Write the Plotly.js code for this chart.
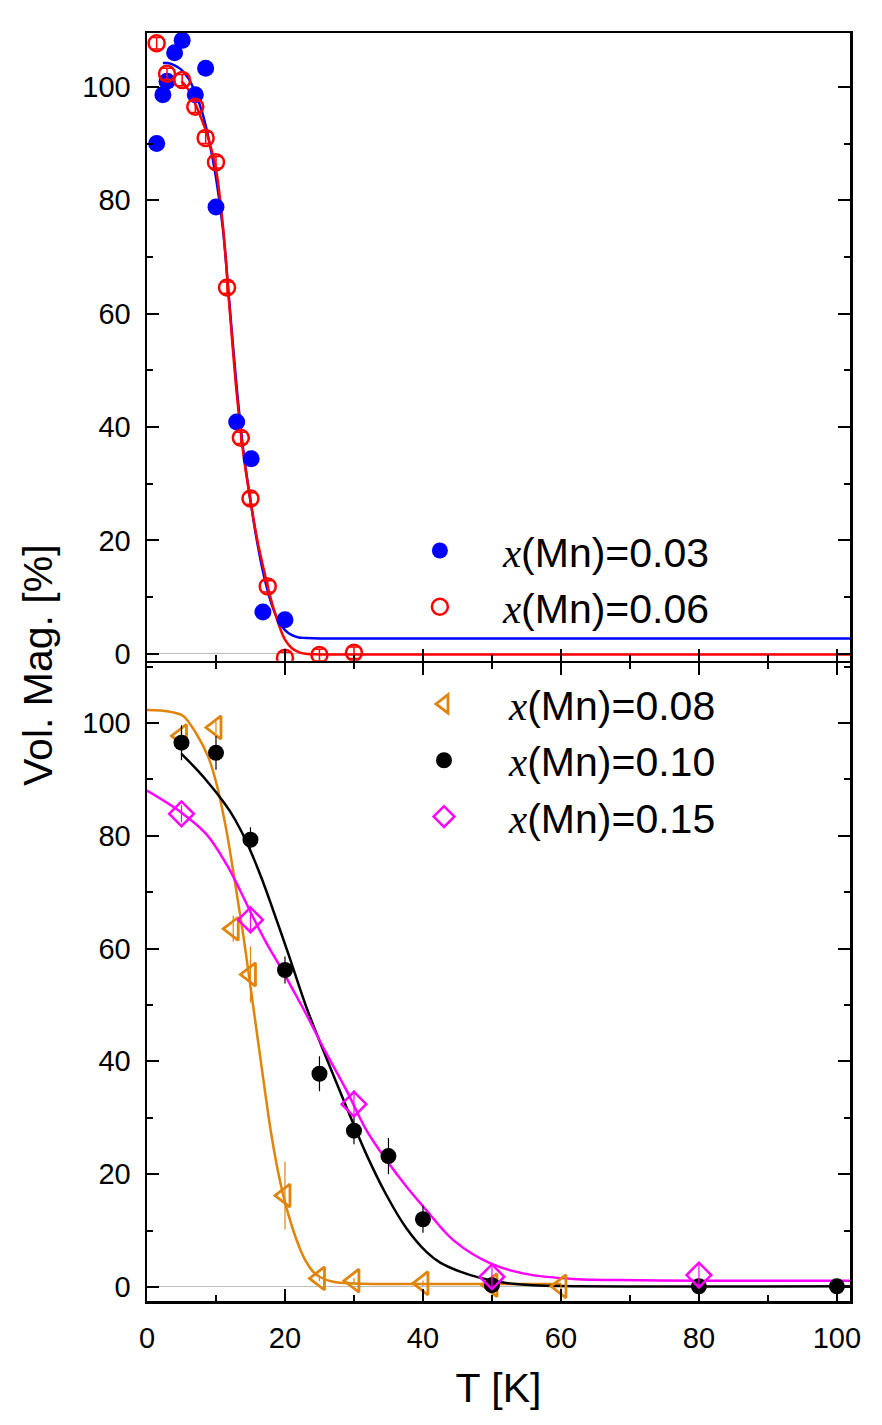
<!DOCTYPE html>
<html>
<head>
<meta charset="utf-8">
<script src="https://cdn.plot.ly/plotly-3.0.1.min.js"></script>
<style>
  html, body { margin: 0; padding: 0; background: #fff; }
  #chart { width: 882px; height: 1425px; }
</style>
</head>
<body>
<div id="chart"></div>
<script>
// x(Mn)=0.03 (top panel, filled blue)
var t03 = [1.4, 2.3, 2.9, 4.0, 5.1, 7.0, 8.5, 10.0, 13.0, 15.1, 16.8, 20.0];
var v03 = [90.0, 98.6, 101.0, 106.0, 108.2, 98.6, 103.3, 78.8, 40.9, 34.4, 7.4, 6.0];
var fitT03 = [2.3, 3, 4, 5, 6, 7, 8, 9, 10, 11, 12, 13, 14, 15, 16, 17, 18, 19, 20, 21, 22, 23, 25, 102];
var fitV03 = [104.2, 104.2, 103.8, 103.0, 101.5, 99.0, 95.5, 90.5, 84.0, 75.0, 61.0, 47.0, 35.5, 27.0, 19.5, 13.5, 9.0, 6.0, 4.2, 3.3, 2.9, 2.8, 2.7, 2.7];

// x(Mn)=0.06 (top panel, open red)
var t06 = [1.4, 2.9, 5.1, 7.0, 8.5, 10.0, 11.6, 13.6, 15.0, 17.5, 20.0, 25.0, 30.0];
var v06 = [107.7, 102.3, 101.2, 96.5, 91.0, 86.7, 64.6, 38.1, 27.4, 11.9, -0.7, -0.2, 0.2];
var e06 = [1, 1, 1, 1, 1, 1, 1, 1, 1, 1, 1, 1, 1];
var fitT06 = [5, 6, 7, 8, 9, 10, 11, 12, 13, 14, 15, 16, 17, 18, 19, 20, 21, 22, 23, 25, 30, 102];
var fitV06 = [101.0, 99.5, 97.0, 94.0, 90.5, 85.5, 75.5, 60.5, 46.0, 35.0, 27.0, 20.0, 14.5, 9.5, 5.5, 2.5, 1.0, 0.3, 0.0, -0.1, -0.1, -0.1];

// x(Mn)=0.08 (bottom panel, orange triangles)
var t08 = [5, 10, 12.5, 15, 20, 25, 30, 40, 50, 60];
var v08 = [97.7, 99.2, 63.5, 55.4, 16.2, 1.5, 1.1, 0.65, 0.3, 0.1];
var e08 = [1, 1, 2.3, 5, 6, 0.5, 0.5, 0.5, 0.5, 0.5];
var fitT08 = [0, 2, 4, 5.3, 7.2, 8.9, 10.1, 11.3, 12, 13, 14, 15, 16, 17, 18, 19, 20, 21, 22, 23, 24, 25, 27, 30, 40, 60];
var fitV08 = [102.3, 102.2, 101.8, 101.2, 98.0, 93.9, 89.1, 82.3, 77.5, 69.8, 62.0, 53.3, 44.4, 35.6, 27.2, 20.4, 15.0, 10.8, 7.3, 4.6, 2.8, 1.8, 0.9, 0.6, 0.5, 0.5];

// x(Mn)=0.10 (bottom panel, black circles)
var t10 = [5, 10, 15, 20, 25, 30, 35, 40, 50, 80, 100];
var v10 = [96.5, 94.7, 79.3, 56.2, 37.8, 27.7, 23.2, 12.0, 0.3, 0.1, 0.1];
var e10 = [3.1, 3.0, 2.2, 2.4, 3.1, 2.4, 3.2, 2.4, 0.8, 0.8, 0.8];
var fitT10 = [5, 7.4, 9.1, 10.6, 12, 13.5, 14.9, 16.6, 18.8, 20.5, 23.1, 26, 28.9, 31.8, 34.7, 37.6, 40.5, 42.5, 45.4, 48.3, 52.1, 56, 60, 102];
var fitV10 = [94.5, 91.5, 89.1, 86.8, 84.4, 81.2, 77.6, 72.5, 65.0, 59.0, 49.6, 40.6, 31.9, 23.5, 16.3, 10.4, 6.2, 4.3, 2.7, 1.6, 0.7, 0.3, 0.15, 0.1];

// x(Mn)=0.15 (bottom panel, magenta diamonds)
var t15 = [5, 15, 30, 50, 80];
var v15 = [83.9, 65.1, 32.4, 1.8, 2.1];
var e15 = [1.5, 2, 2.5, 1.8, 2.3];
var fitT15 = [0, 5, 8.6, 11.5, 13.5, 15.4, 17.3, 19.3, 21.2, 23.1, 26, 28.9, 31.8, 34.7, 37.6, 40.5, 44.4, 49.7, 54.5, 61.8, 71.4, 80, 102];
var fitV15 = [88.0, 84.1, 80.3, 75.0, 70.3, 65.5, 61.0, 56.8, 52.6, 48.3, 41.4, 34.9, 27.8, 22.5, 17.8, 13.6, 8.3, 4.2, 2.4, 1.4, 1.2, 1.1, 1.1];

var tickFont = { family: "Arial, 'Liberation Sans', sans-serif", size: 29, color: "#000" };
var ORANGE = "#E0840A";

function label(val) {
  return "<span style=\"font-family:'Liberation Serif','Times New Roman',serif;font-style:italic\">x</span>(Mn)=" + val;
}

function fit(x, y, color, xa, ya) {
  return {
    x: x, y: y, xaxis: xa, yaxis: ya, type: "scatter", mode: "lines",
    line: { color: color, width: 2.5, shape: "spline", smoothing: 1 },
    showlegend: false, hoverinfo: "skip"
  };
}

var data = [
  fit(fitT03, fitV03, "#0000FF", "x", "y"),
  fit(fitT06, fitV06, "#FF0000", "x", "y"),
  {
    x: t03, y: v03, xaxis: "x", yaxis: "y", type: "scatter", mode: "markers",
    name: label("0.03"), legend: "legend",
    marker: { symbol: "circle", size: 17, color: "#0000FF" }
  },
  {
    x: t06, y: v06, xaxis: "x", yaxis: "y", type: "scatter", mode: "markers",
    name: label("0.06"), legend: "legend",
    error_y: { type: "data", array: e06, color: "#FF0000", thickness: 1.5, width: 5 },
    marker: { symbol: "circle-open", size: 16, color: "#FF0000", line: { width: 2.5 } }
  },
  fit(fitT08, fitV08, ORANGE, "x2", "y2"),
  fit(fitT10, fitV10, "#000000", "x2", "y2"),
  fit(fitT15, fitV15, "#FF00FF", "x2", "y2"),
  {
    x: t08, y: v08, xaxis: "x2", yaxis: "y2", type: "scatter", mode: "markers",
    name: label("0.08"), legend: "legend2",
    error_y: { type: "data", array: e08, color: ORANGE, thickness: 1.2, width: 0 },
    marker: { symbol: "triangle-left-open", size: 20, color: ORANGE, line: { width: 2.8 } }
  },
  {
    x: t10, y: v10, xaxis: "x2", yaxis: "y2", type: "scatter", mode: "markers",
    name: label("0.10"), legend: "legend2",
    error_y: { type: "data", array: e10, color: "#000", thickness: 1.2, width: 0 },
    marker: { symbol: "circle", size: 16, color: "#000" }
  },
  {
    x: t15, y: v15, xaxis: "x2", yaxis: "y2", type: "scatter", mode: "markers",
    name: label("0.15"), legend: "legend2",
    error_y: { type: "data", array: e15, color: "#FF00FF", thickness: 1.2, width: 0 },
    marker: { symbol: "diamond-open", size: 19, color: "#FF00FF", line: { width: 2.5 } }
  }
];

var xCommon = {
  range: [0, 101.9], dtick: 20, tick0: 0,
  ticks: "inside", ticklen: 12, tickwidth: 2, tickcolor: "#000",
  minor: { dtick: 10, ticks: "inside", ticklen: 6, tickwidth: 2, tickcolor: "#000" },
  showline: true, linecolor: "#000", linewidth: 2.5,
  showgrid: false, zeroline: false, tickfont: tickFont
};
var yCommon = {
  dtick: 20, tick0: 0,
  ticks: "inside", ticklen: 12, tickwidth: 2, tickcolor: "#000",
  minor: { dtick: 10, ticks: "inside", ticklen: 6, tickwidth: 2, tickcolor: "#000" },
  showline: true, linecolor: "#000", linewidth: 2.5, mirror: "ticks",
  showgrid: false, zeroline: true, zerolinecolor: "#bdbdbd", zerolinewidth: 1,
  tickfont: tickFont, ticklabelstandoff: 8
};

var legendFont = { family: "Arial, 'Liberation Sans', sans-serif", size: 41, color: "#000" };

var layout = {
  width: 882, height: 1425,
  margin: { l: 147, r: 32, t: 33, b: 124 },
  paper_bgcolor: "#fff", plot_bgcolor: "#fff",
  showlegend: true,
  xaxis: Object.assign({}, xCommon, { anchor: "y", mirror: true, showticklabels: false, matches: "x2" }),
  xaxis2: Object.assign({}, xCommon, {
    anchor: "y2", mirror: "ticks", ticklabelstandoff: 10,
    title: { text: "T [K]", font: { family: "Arial, 'Liberation Sans', sans-serif", size: 41, color: "#000" }, standoff: 20 }
  }),
  yaxis: Object.assign({}, yCommon, { domain: [0.505, 1], anchor: "x", range: [-1.2, 109.5] }),
  yaxis2: Object.assign({}, yCommon, { domain: [0, 0.503], anchor: "x2", range: [-2.5, 110.6] }),
  legend: {
    x: 0.327, y: 0.618, xanchor: "left", yanchor: "top",
    bgcolor: "rgba(0,0,0,0)", borderwidth: 0, font: legendFont,
    itemwidth: 116, tracegroupgap: 0
  },
  legend2: {
    x: 0.330, y: 0.497, xanchor: "left", yanchor: "top",
    bgcolor: "rgba(0,0,0,0)", borderwidth: 0, font: legendFont,
    itemwidth: 120, tracegroupgap: 0
  },
  annotations: [{
    text: "Vol. Mag. [%]", xref: "paper", yref: "paper",
    x: -0.155, y: 0.5016, xanchor: "center", yanchor: "middle",
    textangle: -90, showarrow: false,
    font: { family: "Arial, 'Liberation Sans', sans-serif", size: 41, color: "#000" }
  }]
};

Plotly.newPlot("chart", data, layout, { displayModeBar: false, staticPlot: true });
</script>
</body>
</html>
